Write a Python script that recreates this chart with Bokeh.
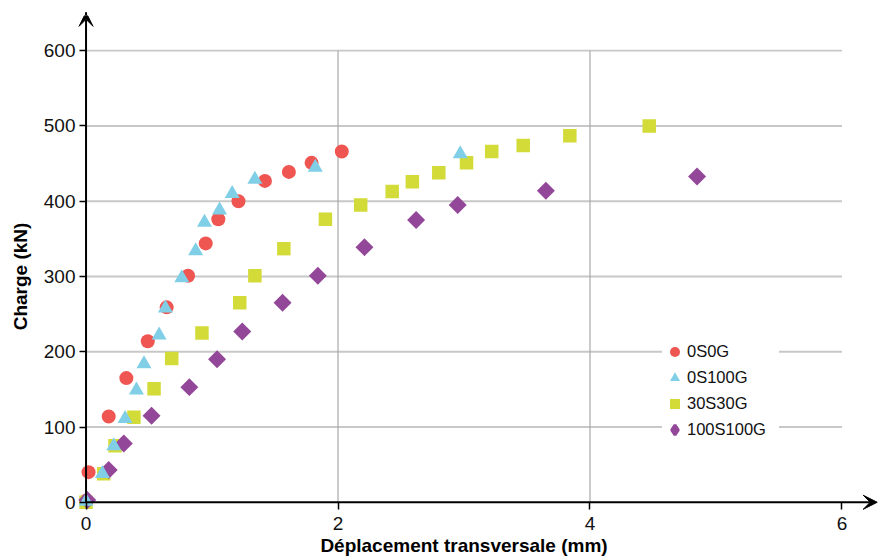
import math
from bokeh.plotting import figure
from bokeh.models import (LinearAxis, FixedTicker, Range1d, Arrow, VeeHead,
                          Legend, LegendItem)
from bokeh.embed import file_html
from bokeh.resources import INLINE

# ---------------- data ----------------
c_x = [0.00, 0.02, 0.18, 0.32, 0.49, 0.64, 0.81, 0.95, 1.05, 1.21, 1.42, 1.61, 1.79, 2.03]
c_y = [2, 40, 114, 165, 214, 259, 301, 344, 376, 400, 427, 439, 451, 466]

t_x = [0.00, 0.13, 0.22, 0.31, 0.40, 0.46, 0.58, 0.63, 0.76, 0.87, 0.94, 1.06, 1.16, 1.34, 1.82, 2.97]
t_y = [1, 38, 75, 111, 149, 184, 222, 258, 298, 334, 372, 388, 410, 429, 445, 463]

s_x = [0.00, 0.14, 0.23, 0.38, 0.54, 0.68, 0.92, 1.22, 1.34, 1.57, 1.90, 2.18, 2.43, 2.59,
       2.80, 3.02, 3.22, 3.47, 3.84, 4.47]
s_y = [0, 38, 75, 113, 151, 191, 225, 265, 301, 337, 376, 395, 413, 426, 438, 451, 466, 474, 487, 500]

d_x = [0.01, 0.18, 0.30, 0.52, 0.82, 1.04, 1.24, 1.56, 1.84, 2.21, 2.62, 2.95, 3.65, 4.85]
d_y = [3, 43, 78, 115, 153, 190, 227, 265, 301, 339, 375, 395, 414, 433]

series_names = ["0S0G", "0S100G", "30S30G", "100S100G"]
x_ticks = [0, 2, 4, 6]
y_ticks = [0, 100, 200, 300, 400, 500, 600]
x_title = "Déplacement transversale (mm)"
y_title = "Charge (kN)"

FONT = "Liberation Sans"
PURPLE = "#934799"

# ranges symmetric about x=3 and y=300 so that axis titles centre like the original
p = figure(width=878, height=558, output_backend="svg", toolbar_location=None,
           x_range=Range1d(-0.29, 6.29), y_range=Range1d(-46.8, 646.8),
           x_axis_type=None, y_axis_type=None,
           min_border_left=49, min_border_right=0, min_border_top=15, min_border_bottom=21)
p.outline_line_color = None
p.background_fill_color = "white"
p.border_fill_color = "white"

# ---------------- grid lines ----------------
h_grid = [v for v in y_ticks if v > 0]
p.segment(x0=[x_ticks[0]] * len(h_grid), x1=[x_ticks[-1]] * len(h_grid), y0=h_grid, y1=h_grid,
          line_color="#c8c8c8", line_width=1.8)
v_grid = [v for v in x_ticks if 0 < v < x_ticks[-1]]
p.segment(x0=v_grid, x1=v_grid, y0=[y_ticks[0]] * len(v_grid), y1=[y_ticks[-1]] * len(v_grid),
          line_color="#a8a8a8", line_width=1.2)

# ---------------- axes ----------------
def style_axis(ax):
    ax.axis_line_color = None
    ax.major_tick_line_color = "black"
    ax.major_tick_line_width = 1.5
    ax.minor_tick_line_color = None
    ax.major_label_text_font = FONT
    ax.major_label_text_font_size = "19px"
    ax.major_label_text_color = "#111111"
    ax.axis_label_text_font = FONT
    ax.axis_label_text_font_size = "19px"
    ax.axis_label_text_font_style = "bold"
    ax.axis_label_text_color = "black"

xax = LinearAxis(bounds=(x_ticks[0], x_ticks[-1]), ticker=FixedTicker(ticks=x_ticks),
                 axis_label=x_title)
style_axis(xax)
xax.major_tick_out = -28
xax.minor_tick_out = -28
xax.major_tick_in = 35
xax.major_label_standoff = -21
xax.axis_label_standoff = 2
p.add_layout(xax, "below")

yax = LinearAxis(bounds=(y_ticks[0], y_ticks[-1]), ticker=FixedTicker(ticks=y_ticks),
                 axis_label=y_title)
style_axis(yax)
yax.major_tick_out = -30
yax.minor_tick_out = -30
yax.major_tick_in = 37
yax.major_label_standoff = -26
yax.axis_label_standoff = 10
p.add_layout(yax, "left")

# ---------------- data markers ----------------
r_c = p.scatter(c_x, c_y, marker="circle", size=14, fill_color="#EF5652", line_color=None)
r_s = p.scatter(s_x, s_y, marker="square", size=13.5, fill_color="#D3DB39", line_color=None)
# legend proxy (diamond shape; legend glyphs ignore angle) - hidden under the first diamond
r_d_leg = p.scatter(d_x[:1], d_y[:1], marker="diamond", size=10, fill_color=PURPLE,
                    line_color=PURPLE, line_width=3)
r_d = p.scatter(d_x, d_y, marker="square", size=12.7, angle=math.pi / 4,
                fill_color=PURPLE, line_color=None)
r_t = p.scatter(t_x, t_y, marker="triangle", size=15, fill_color="#80CFE7", line_color=None)

# ---------------- axis arrows ----------------
p.add_layout(Arrow(end=VeeHead(size=14, fill_color="black", line_color="black"),
                   x_start=0, y_start=0, x_end=6.28, y_end=0,
                   line_color="black", line_width=2))
p.add_layout(Arrow(end=VeeHead(size=14, fill_color="black", line_color="black"),
                   x_start=0, y_start=0, x_end=0, y_end=651,
                   line_color="black", line_width=2))

# ---------------- legend ----------------
legend = Legend(items=[LegendItem(label=series_names[0], renderers=[r_c]),
                       LegendItem(label=series_names[1], renderers=[r_t]),
                       LegendItem(label=series_names[2], renderers=[r_s]),
                       LegendItem(label=series_names[3], renderers=[r_d_leg])],
                location=(613, 95), glyph_width=25, glyph_height=25, spacing=1,
                padding=6, margin=0, label_standoff=0, label_width=92,
                label_text_font=FONT, label_text_font_size="16.5px",
                label_text_color="#111111",
                border_line_color=None, background_fill_color="white",
                background_fill_alpha=1.0)
p.add_layout(legend)

open("out.html", "w").write(file_html(p, INLINE))
